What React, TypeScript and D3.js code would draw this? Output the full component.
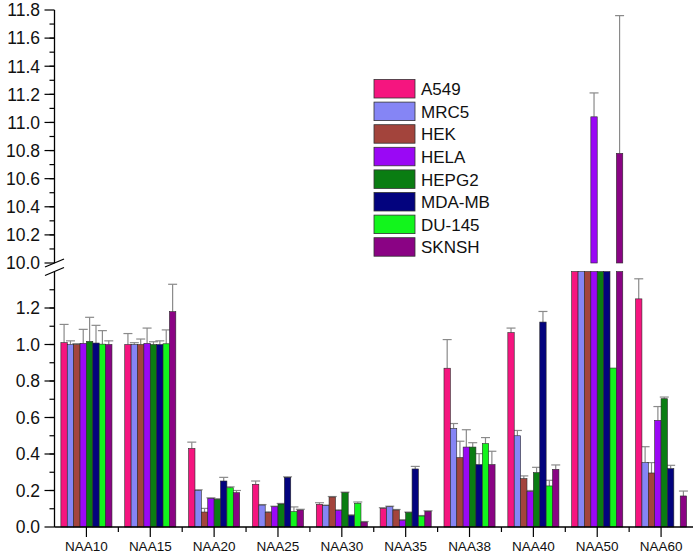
import React from "react";
import * as d3 from "d3";

const categories = ["NAA10", "NAA15", "NAA20", "NAA25", "NAA30", "NAA35", "NAA38", "NAA40", "NAA50", "NAA60"];
const seriesNames = ["A549", "MRC5", "HEK", "HELA", "HEPG2", "MDA-MB", "DU-145", "SKNSH"];
const seriesColors = ["#f5157f", "#8585f5", "#a3443c", "#9a08f5", "#0a7d12", "#03037e", "#12f51c", "#8a0384"];

const A549 = [1.01, 1.0, 0.43, 0.234, 0.124, 0.102, 0.87, 1.065, 3.0, 1.25];
const A549Err = [0.1, 0.06, 0.035, 0.018, 0.009, 0.004, 0.157, 0.025, 0, 0.11];
const MRC5 = [1.0, 1.0, 0.2, 0.12, 0.117, 0.111, 0.54, 0.5, 3.0, 0.353];
const MRC5Err = [0.02, 0.01, 0.004, 0.003, 0.003, 0.003, 0.027, 0.029, 0, 0.087];
const HEK = [1.0, 1.0, 0.082, 0.08, 0.164, 0.093, 0.38, 0.265, 3.0, 0.296];
const HEKErr = [0.005, 0.03, 0.02, 0.003, 0.003, 0.003, 0.09, 0.015, 0, 0.057];
const HELA = [1.006, 1.006, 0.157, 0.111, 0.091, 0.037, 0.438, 0.195, 11.04, 0.584];
const HELAErr = [0.077, 0.084, 0.003, 0.003, 0.003, 0.003, 0.095, 0.005, 0.17, 0.076];
const HEPG2 = [1.017, 1.0, 0.152, 0.126, 0.188, 0.079, 0.438, 0.298, 3.0, 0.703];
const HEPG2Err = [0.132, 0.015, 0.003, 0.003, 0.003, 0.003, 0.024, 0.029, 0, 0.009];
const MDAMB = [1.008, 1.0, 0.252, 0.272, 0.064, 0.318, 0.342, 1.123, 3.0, 0.32];
const MDAMBErr = [0.097, 0.02, 0.02, 0.003, 0.003, 0.014, 0.06, 0.058, 0, 0.018];
const DU145 = [1.002, 1.004, 0.215, 0.084, 0.13, 0.06, 0.457, 0.225, 0.871, 0];
const DU145Err = [0.074, 0.076, 0.005, 0.026, 0.007, 0.003, 0.033, 0.031, 0, 0];
const SKNSH = [1.0, 1.18, 0.188, 0.093, 0.027, 0.086, 0.342, 0.316, 10.78, 0.17];
const SKNSHErr = [0.02, 0.15, 0.012, 0.004, 0.003, 0.003, 0.073, 0.024, 0.98, 0.027];

const seriesValues = [A549, MRC5, HEK, HELA, HEPG2, MDAMB, DU145, SKNSH];
const seriesErrors = [A549Err, MRC5Err, HEKErr, HELAErr, HEPG2Err, MDAMBErr, DU145Err, SKNSHErr];

const lowerTicks = [0.0, 0.2, 0.4, 0.6, 0.8, 1.0, 1.2];
const upperTicks = [10.0, 10.2, 10.4, 10.6, 10.8, 11.0, 11.2, 11.4, 11.6, 11.8];

const W = 693;
const H = 554;
const axisX = 54.5;
const font = "'Liberation Sans', Arial, sans-serif";

export default function App() {
  const x0 = d3.scaleBand<string>().domain(categories).range([axisX, W]).padding(0);
  const bw = x0.bandwidth();
  const x1 = d3.scaleBand<string>().domain(seriesNames).range([bw * 0.1, bw * 0.9]).padding(0);
  const yLow = d3.scaleLinear().domain([0, 1.4]).range([527, 271.5]);
  const yUp = d3.scaleLinear().domain([10, 11.8]).range([263, 10]);

  const lowerMinor = d3.range(1, 14).map((i) => i / 10);
  const upperMinor = d3.range(1, 18).map((i) => 10 + i / 10);

  const bars: React.ReactNode[] = [];
  const errs: React.ReactNode[] = [];
  categories.forEach((c, ci) => {
    seriesNames.forEach((s, si) => {
      const v = seriesValues[si][ci];
      const e = seriesErrors[si][ci];
      const bx = (x0(c) as number) + (x1(s) as number);
      const w = x1.bandwidth();
      const cx = bx + w / 2;
      if (v <= 0) return;
      // lower panel
      const topLow = yLow(Math.min(v, 1.4));
      bars.push(
        <rect key={`l-${ci}-${si}`} x={bx} y={topLow} width={w} height={527 - topLow}
          fill={seriesColors[si]} stroke="#2a2a2a" strokeWidth={0.6} />
      );
      if (v > 10) {
        const topUp = yUp(v);
        bars.push(
          <rect key={`u-${ci}-${si}`} x={bx} y={topUp} width={w} height={263 - topUp}
            fill={seriesColors[si]} stroke="#2a2a2a" strokeWidth={0.6} />
        );
        if (e > 0) {
          const ey = yUp(v + e);
          errs.push(
            <g key={`e-${ci}-${si}`} stroke="#8a8a8a" strokeWidth={1.2}>
              <line x1={cx} x2={cx} y1={topUp} y2={ey} />
              <line x1={cx - 4.5} x2={cx + 4.5} y1={ey} y2={ey} />
            </g>
          );
        }
      } else if (v < 1.4 && e > 0) {
        const ey = yLow(v + e);
        errs.push(
          <g key={`e-${ci}-${si}`} stroke="#8a8a8a" strokeWidth={1.2}>
            <line x1={cx} x2={cx} y1={topLow} y2={ey} />
            <line x1={cx - 4.5} x2={cx + 4.5} y1={ey} y2={ey} />
          </g>
        );
      }
    });
  });

  return (
    <div style={{ position: "fixed", left: 0, top: 0 }}>
      <svg width={W} height={H} style={{ display: "block", background: "#fff" }}>
        {errs}
        {bars}
        {/* y axis lines */}
        <line x1={axisX} x2={axisX} y1={527} y2={271.5} stroke="#000" strokeWidth={1.3} />
        <line x1={axisX} x2={axisX} y1={263} y2={10} stroke="#000" strokeWidth={1.3} />
        {/* break marks */}
        <line x1={45} x2={64} y1={267} y2={259} stroke="#000" strokeWidth={1.3} />
        <line x1={45} x2={64} y1={275.5} y2={267.5} stroke="#000" strokeWidth={1.3} />
        {/* lower ticks */}
        {lowerMinor.map((t) => (
          <line key={`lm${t}`} x1={axisX - 5} x2={axisX} y1={yLow(t)} y2={yLow(t)} stroke="#000" strokeWidth={1.2} />
        ))}
        {lowerTicks.map((t) => (
          <g key={`lt${t}`}>
            <line x1={axisX - 10} x2={axisX} y1={yLow(t)} y2={yLow(t)} stroke="#000" strokeWidth={1.2} />
            <text x={40} y={yLow(t)} dy="0.36em" textAnchor="end" fontFamily={font} fontSize={17.5} fill="#111">
              {d3.format(".1f")(t)}
            </text>
          </g>
        ))}
        {upperMinor.map((t) => (
          <line key={`um${t}`} x1={axisX - 5} x2={axisX} y1={yUp(t)} y2={yUp(t)} stroke="#000" strokeWidth={1.2} />
        ))}
        {upperTicks.map((t) => (
          <g key={`ut${t}`}>
            <line x1={axisX - 10} x2={axisX} y1={yUp(t)} y2={yUp(t)} stroke="#000" strokeWidth={1.2} />
            <text x={40} y={yUp(t)} dy="0.36em" textAnchor="end" fontFamily={font} fontSize={17.5} fill="#111">
              {d3.format(".1f")(t)}
            </text>
          </g>
        ))}
        {/* x axis */}
        <line x1={axisX} x2={W} y1={527} y2={527} stroke="#000" strokeWidth={1.3} />
        {categories.map((c, i) => {
          const left = x0(c) as number;
          const cx = left + bw / 2;
          return (
            <g key={`x${c}`}>
              {i > 0 && <line x1={left} x2={left} y1={527} y2={532} stroke="#000" strokeWidth={1.2} />}
              <line x1={cx} x2={cx} y1={527} y2={537} stroke="#000" strokeWidth={1.2} />
              <text x={cx} y={551} textAnchor="middle" fontFamily={font} fontSize={13.5} fill="#111">{c}</text>
            </g>
          );
        })}
        {/* legend */}
        {seriesNames.map((s, i) => {
          const y = 79.5 + i * 22.6;
          return (
            <g key={`lg${s}`}>
              <rect x={374} y={y} width={41} height={18.5} fill={seriesColors[i]} stroke="#333" strokeWidth={0.8} />
              <text x={421} y={y + 9.5} dy="0.36em" fontFamily={font} fontSize={17} fill="#111">{s}</text>
            </g>
          );
        })}
      </svg>
    </div>
  );
}
